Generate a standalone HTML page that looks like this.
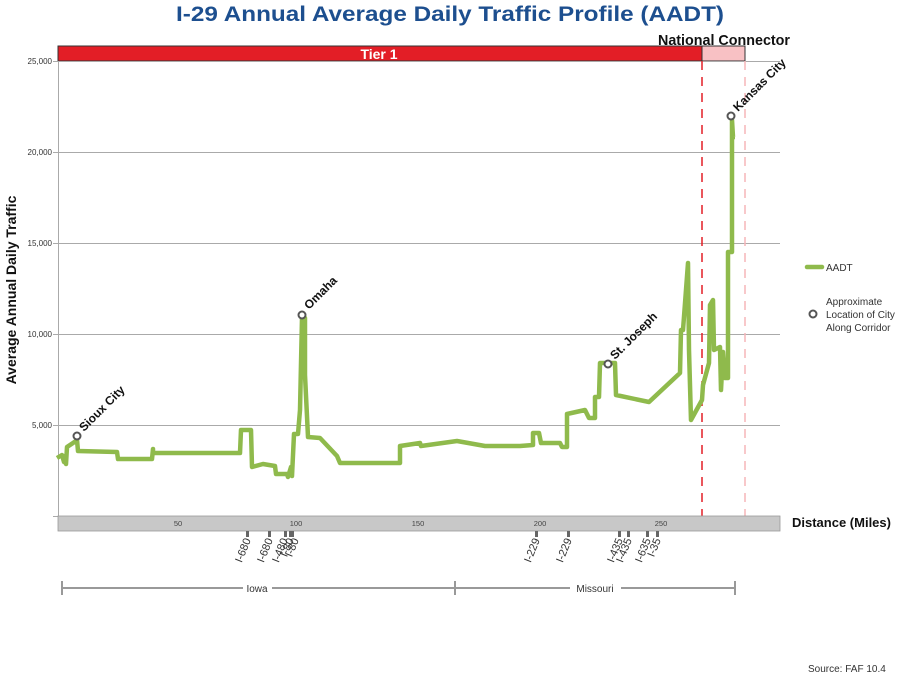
<!DOCTYPE html>
<html><head><meta charset="utf-8"><style>body{margin:0;background:#fff}svg{display:block}</style></head>
<body>
<svg width="900" height="676" viewBox="0 0 900 676" xmlns="http://www.w3.org/2000/svg" font-family="Liberation Sans, sans-serif">
<text x="450" y="21" text-anchor="middle" font-size="21" font-weight="bold" fill="#1d4f8f" textLength="548" lengthAdjust="spacingAndGlyphs">I-29 Annual Average Daily Traffic Profile (AADT)</text>
<text x="724" y="45" text-anchor="middle" font-size="15" font-weight="bold" fill="#111" textLength="132" lengthAdjust="spacingAndGlyphs">National Connector</text>
<rect x="58" y="46" width="644" height="15" fill="#e31e26" stroke="#333" stroke-width="1"/>
<rect x="702" y="46" width="43" height="15" fill="#f8c1c4" stroke="#333" stroke-width="1"/>
<text x="379" y="59" text-anchor="middle" font-size="14" font-weight="bold" fill="#fff">Tier 1</text>
<g stroke="#aaa" stroke-width="1">
<line x1="58" y1="61.5" x2="780" y2="61.5"/>
<line x1="58" y1="152.5" x2="780" y2="152.5"/>
<line x1="58" y1="243.5" x2="780" y2="243.5"/>
<line x1="58" y1="334.5" x2="780" y2="334.5"/>
<line x1="58" y1="425.5" x2="780" y2="425.5"/>
<line x1="58.5" y1="61" x2="58.5" y2="518"/>
<line x1="53" y1="61.5" x2="58" y2="61.5"/><line x1="53" y1="152.5" x2="58" y2="152.5"/><line x1="53" y1="243.5" x2="58" y2="243.5"/><line x1="53" y1="334.5" x2="58" y2="334.5"/><line x1="53" y1="425.5" x2="58" y2="425.5"/><line x1="53" y1="516.5" x2="58" y2="516.5"/>
</g>
<g font-size="8" fill="#333" text-anchor="end">
<text x="52" y="64">25,000</text><text x="52" y="155">20,000</text><text x="52" y="246">15,000</text><text x="52" y="337">10,000</text><text x="52" y="428">5,000</text>
</g>
<text transform="translate(16,290) rotate(-90)" text-anchor="middle" font-size="14" font-weight="bold" fill="#111">Average Annual Daily Traffic</text>
<g stroke-dasharray="9,7" stroke-width="1.5">
<line x1="702" y1="61" x2="702" y2="516" stroke="#e31e26"/>
<line x1="745" y1="61" x2="745" y2="516" stroke="#f6b5b9"/>
</g>
<rect x="58" y="516" width="722" height="15" fill="#c8c8c8" stroke="#999" stroke-width="0.8"/>
<g font-size="7.5" fill="#444" text-anchor="middle">
<text x="178" y="526">50</text><text x="296" y="526">100</text><text x="418" y="526">150</text><text x="540" y="526">200</text><text x="661" y="526">250</text>
</g>
<text x="792" y="527" font-size="13" font-weight="bold" fill="#111">Distance (Miles)</text>
<g fill="#666">
<rect x="246" y="531" width="3" height="6"/><rect x="268" y="531" width="3" height="6"/><rect x="284" y="531" width="3" height="6"/><rect x="289" y="531" width="3" height="6"/><rect x="291" y="531" width="3" height="6"/><rect x="535" y="531" width="3" height="6"/><rect x="567" y="531" width="3" height="6"/><rect x="618" y="531" width="3" height="6"/><rect x="627" y="531" width="3" height="6"/><rect x="646" y="531" width="3" height="6"/><rect x="656" y="531" width="3" height="6"/>
</g>
<g font-size="11" fill="#333" text-anchor="end">
<text transform="translate(251,540) rotate(-68)">I-680</text>
<text transform="translate(273,540) rotate(-68)">I-680</text>
<text transform="translate(288,540) rotate(-68)">I-480</text>
<text transform="translate(294,540) rotate(-68)">I-80</text>
<text transform="translate(299,540) rotate(-68)">I-80</text>
<text transform="translate(540,540) rotate(-68)">I-229</text>
<text transform="translate(572,540) rotate(-68)">I-229</text>
<text transform="translate(623,540) rotate(-68)">I-435</text>
<text transform="translate(632,540) rotate(-68)">I-435</text>
<text transform="translate(651,540) rotate(-68)">I-635</text>
<text transform="translate(661,540) rotate(-68)">I-35</text>
</g>
<g stroke="#999" stroke-width="2">
<line x1="62" y1="588" x2="243" y2="588"/><line x1="272" y1="588" x2="570" y2="588"/><line x1="621" y1="588" x2="735" y2="588"/>
<line x1="62" y1="581" x2="62" y2="595"/><line x1="455" y1="581" x2="455" y2="595"/><line x1="735" y1="581" x2="735" y2="595"/>
</g>
<text x="257" y="592" text-anchor="middle" font-size="10" fill="#333">Iowa</text>
<text x="595" y="592" text-anchor="middle" font-size="10" fill="#333">Missouri</text>
<polyline fill="none" stroke="#8fba4c" stroke-width="4.5" stroke-linejoin="round" points="57,458 62,455 64,462 65,456 66,464 67,447 73,443 77,440 78,451 117,452 118,459 152,459 153,449 153,453 240,453 241,430 251,430 252,467 263,464 275,466 276,474 287,474 288,477 291,467 292,476 294,434 298,434 300,410 302,318 305,318 305,375 308,437 320,438 337,456 340,463 400,463 400,446 420,443 421,446 457,441 485,446 500,446 520,446 533,445 533,433 539,433 541,443 560,443 562,447 567,447 567,414 585,410 589,418 595,418 595,397 599,397 600,363 615,363 616,395 649,402 680,373 681,330 683,330 688,263 689,350 691,420 702,400 703,385 709,363 710,305 713,300 714,350 720,347 721,390 723,352 725,378 728,378 728,252 732,252 732,120 733,137 735,137"/>
<g fill="#fff" stroke="#555" stroke-width="2">
<circle cx="77" cy="436" r="3.5"/><circle cx="302" cy="315" r="3.5"/><circle cx="608" cy="364" r="3.5"/><circle cx="731" cy="116" r="3.5"/>
</g>
<g font-size="12" font-weight="bold" fill="#111">
<text transform="translate(84,432) rotate(-45)">Sioux City</text>
<text transform="translate(309,310) rotate(-45)">Omaha</text>
<text transform="translate(615,360) rotate(-45)">St. Joseph</text>
<text transform="translate(738,112) rotate(-45)">Kansas City</text>
</g>
<line x1="807" y1="267" x2="822" y2="267" stroke="#8fba4c" stroke-width="4.5" stroke-linecap="round"/>
<text x="826" y="271" font-size="10" fill="#333">AADT</text>
<circle cx="813" cy="314" r="3.5" fill="#fff" stroke="#555" stroke-width="2"/>
<g font-size="10" fill="#333"><text x="826" y="305">Approximate</text><text x="826" y="318">Location of City</text><text x="826" y="331">Along Corridor</text></g>
<text x="808" y="672" font-size="10" fill="#333">Source: FAF 10.4</text>
</svg>
</body></html>
